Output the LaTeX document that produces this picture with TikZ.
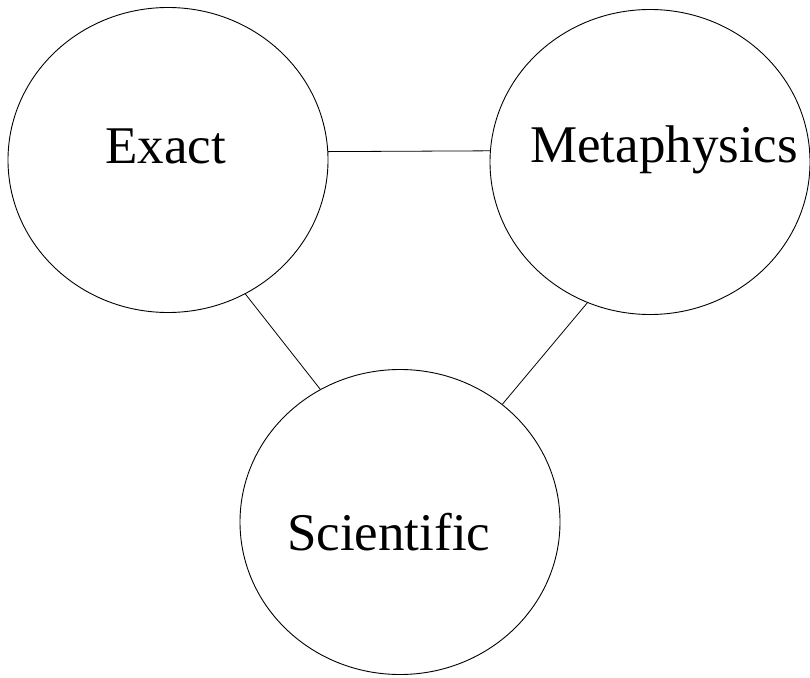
\documentclass[tikz,border=0pt]{standalone}
\usepackage{fontspec}
\setmainfont[Ligatures=NoCommon]{Liberation Serif}
\usetikzlibrary{shapes.geometric}
\tikzset{
  circ/.style={draw, ellipse, minimum width=320pt, minimum height=305pt, inner sep=0pt, line width=0.9pt},
  lbl/.style={anchor=base west, inner sep=0pt, font=\fontsize{53}{60}\selectfont},
  conn/.style={line width=0.8pt}
}
\begin{document}
\begin{tikzpicture}[x=1pt,y=-1pt]
\useasboundingbox (0,0) rectangle (810,677);
\node[circ] (ex) at (168,160) {};
\node[circ] (me) at (650,162) {};
\node[circ] (sc) at (400,522) {};
\node[lbl] (tex) at (105,163) {Exact};
\node[lbl] (tme) at (530,162) {Metaphysics};
\node[lbl] (tsc) at (287,550) {Scientific};
\draw[conn] (ex.3.2) -- (me.176.1);
\draw[conn] (ex.-60.8) -- (sc.121);
\draw[conn] (me.-114.1) -- (sc.49.4);
\end{tikzpicture}
\end{document}
